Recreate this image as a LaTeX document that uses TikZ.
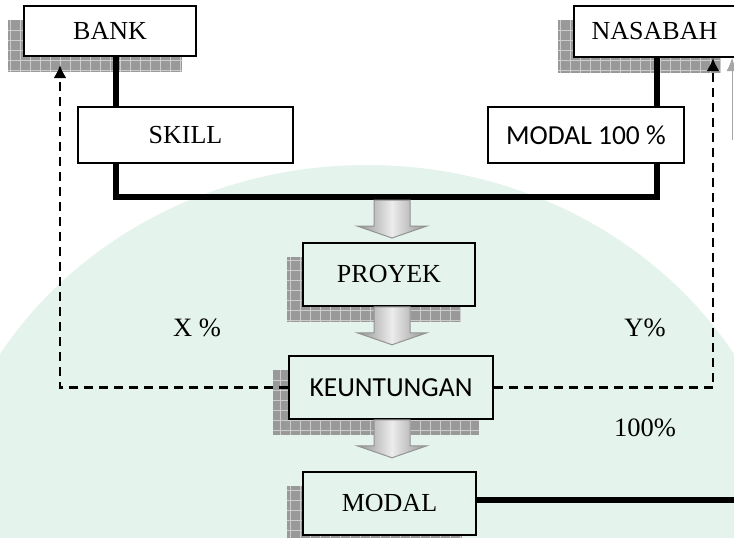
\documentclass[tikz,border=0pt]{standalone}
\usepackage{fontspec}
\setmainfont{Liberation Serif}
\newfontfamily\calibri{Carlito}
\usetikzlibrary{calc, arrows.meta, backgrounds}
\definecolor{tint}{RGB}{228,243,236}

% block arrow between two boxes, #1 = top centre
\newcommand{\panah}[1]{%
  \shade[panahblok] #1 ++(-18,0) -- ++(0,26) -- ++(-17,0) -- ++(35,12)
     -- ++(35,-12) -- ++(-17,0) -- ++(0,-26) -- cycle;}

\begin{document}
\begin{tikzpicture}[x=1pt, y=-1pt,
  kotak/.style={draw=black, line width=1.5pt, fill=white, inner sep=0pt,
    font=\fontsize{26}{30}\selectfont},
  kotakhijau/.style={kotak, fill=tint},
  sans/.style={font=\calibri\fontsize{27.5}{30}\selectfont},
  label/.style={font=\fontsize{26.5}{30}\selectfont},
  garis/.style={line width=6pt},
  putus/.style={line width=2.6pt, dash pattern=on 9pt off 6pt,
    -{Latex[length=13pt, width=13pt]}},
  panahblok/.style={left color=gray!85, right color=gray!85,
    middle color=gray!15, draw=gray!85, line width=1pt},
  bayang/.style={fill=black!40},
  kisi/.style={draw=black!20, line width=0.9pt}]
  \useasboundingbox (0,0) rectangle (734,538);

  % Top row
  \node[kotak, minimum width=172pt, minimum height=50pt] (bank) at (110,31) {BANK};
  \node[kotak, minimum width=161pt, minimum height=51pt] (nasabah) at (654.5,31.5) {NASABAH};
  \node[kotak, minimum width=215pt, minimum height=56pt] (skill) at (185.5,135) {SKILL};
  \node[kotak, sans, minimum width=196pt, minimum height=56pt] (modalpersen) at (586,135) {MODAL 100 \%};

  % Middle column
  \node[kotakhijau, minimum width=172pt, minimum height=63pt] (proyek) at (389,274.5) {PROYEK};
  \node[kotakhijau, sans, minimum width=204pt, minimum height=63pt] (untung) at (391,387.5) {KEUNTUNGAN};
  \node[kotakhijau, minimum width=173pt, minimum height=63pt] (modal) at (389.5,503.5) {MODAL};

  % Shares
  \node[label] (lx) at (197,328) {X \%};
  \node[label] (ly) at (645,328) {Y\%};
  \node[label] (lseratus) at (645,428) {100\%};

  \coordinate (jl) at (116,197);
  \coordinate (jr) at (657,197);
  \coordinate (kiri) at (60,65);
  \coordinate (kanan) at (713,58);
  \coordinate (ujung) at (732,140);
  \coordinate (tepi) at (740,500);

  % Thick joins
  \draw[garis] (bank.south -| jl) -- (skill.north -| jl);
  \draw[garis] (skill.south -| jl) -- (jl) -- (jr) -- (modalpersen.south -| jr);
  \draw[garis] (modalpersen.north -| jr) -- (nasabah.south -| jr);
  \draw[garis] (modal.east |- tepi) -- (tepi);

  % Block arrows
  \panah{($(jl -| proyek.north)+(3,3)$)}
  \panah{($(proyek.south)+(3,0)$)}
  \panah{($(untung.south)+(1,0)$)}

  % Profit split
  \draw[putus] (untung.west) -| (kiri);
  \draw[putus] (untung.east) -| (kanan);
  \draw[gray!70, line width=1pt, -{Latex[length=13pt, width=11pt]}] (ujung) -- (ujung |- kanan);

  \begin{scope}[on background layer]
    \fill[tint] (367,560) ellipse [x radius=430, y radius=395];
    % Shadows
    \foreach \k in {bank, nasabah, proyek, untung, modal} {
      \fill[bayang] ($(\k.south west)+(-15,15)$) rectangle ($(\k.north east)+(-15,15)$);
      \draw[kisi, step=10pt] ($(\k.south west)+(-15,15)$) grid ($(\k.north east)+(-15,15)$);
    }
  \end{scope}
\end{tikzpicture}
\end{document}
